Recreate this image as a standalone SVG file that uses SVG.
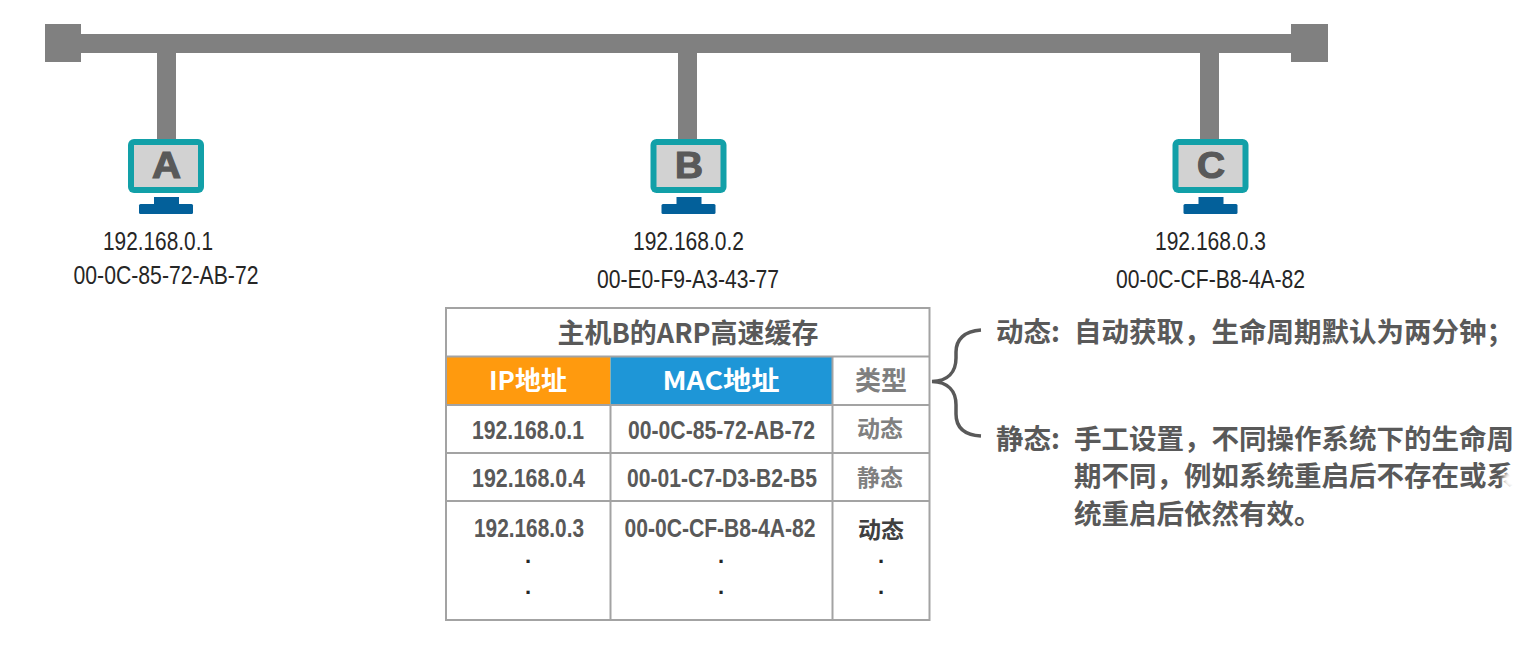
<svg xmlns="http://www.w3.org/2000/svg" width="1522" height="648" viewBox="0 0 1522 648">
<style>
.bus{fill:#808080}
.frame{fill:#12a0a8}.screen{fill:#d2d2d2}.stand{fill:#03609a}
.letter{font:bold 36px "Liberation Sans",Arial,sans-serif;fill:#595959;stroke:#595959;stroke-width:1.2;text-anchor:middle}
.addr{font:25px "Liberation Sans",Arial,sans-serif;fill:#262626;text-anchor:middle}
.cell{font:bold 26px "Liberation Sans",Arial,sans-serif;fill:#595959;text-anchor:middle}
.cjk{font-family:"Noto Sans CJK SC","Liberation Sans",sans-serif;font-weight:700}
.title{font-size:27px;fill:#595959;text-anchor:middle}
.head{font-size:26px;fill:#fff;text-anchor:middle}
.type{font-size:26px;fill:#7f7f7f;text-anchor:middle}
.tcell{font-size:23px;fill:#808080;text-anchor:middle}
.note{font-size:27.500px;fill:#595959}
.dot{font:bold 22px "Liberation Sans",Arial,sans-serif;fill:#262626;text-anchor:middle}
.grid{stroke:#a3a3a3;stroke-width:2;fill:none}
</style>
<defs>
<g id="monitor">
<rect class="frame" x="128" y="139" width="76" height="54" rx="6"/>
<rect class="screen" x="134" y="145" width="64" height="42"/>
<rect class="stand" x="154" y="197" width="25" height="8"/>
<rect class="stand" x="139" y="204" width="54" height="10" rx="1.5"/>
</g>
<filter id="soft" x="-50%" y="-50%" width="200%" height="200%"><feGaussianBlur stdDeviation="2"/></filter>
</defs>
<rect width="1522" height="648" fill="#fff"/>
<g id="connectors">
<rect class="bus" x="45" y="34" width="1283" height="19"/>
<rect class="bus" x="45" y="24" width="36" height="38"/>
<rect class="bus" x="1291" y="24" width="37" height="38"/>
<rect class="bus" x="157" y="53" width="19" height="87"/>
<rect class="bus" x="678" y="53" width="19" height="87"/>
<rect class="bus" x="1200" y="53" width="19" height="87"/>
</g>
<g id="host-a">
<use href="#monitor"/>
<text class="letter" x="166.500" y="178" textLength="29" lengthAdjust="spacingAndGlyphs">A</text>
<text class="addr" x="158" y="250" textLength="110" lengthAdjust="spacingAndGlyphs">192.168.0.1</text>
<text class="addr" x="166" y="284" textLength="185" lengthAdjust="spacingAndGlyphs">00-0C-85-72-AB-72</text>
</g>
<g id="host-b">
<use href="#monitor" x="522.500"/>
<text class="letter" x="689" y="178" textLength="28" lengthAdjust="spacingAndGlyphs">B</text>
<text class="addr" x="688.500" y="250" textLength="111" lengthAdjust="spacingAndGlyphs">192.168.0.2</text>
<text class="addr" x="688" y="288" textLength="182" lengthAdjust="spacingAndGlyphs">00-E0-F9-A3-43-77</text>
</g>
<g id="host-c">
<use href="#monitor" x="1044.500"/>
<text class="letter" x="1211" y="178" textLength="28" lengthAdjust="spacingAndGlyphs">C</text>
<text class="addr" x="1210.500" y="250" textLength="111" lengthAdjust="spacingAndGlyphs">192.168.0.3</text>
<text class="addr" x="1210.500" y="288" textLength="189" lengthAdjust="spacingAndGlyphs">00-0C-CF-B8-4A-82</text>
</g>
<g id="arp-table">
<rect x="446" y="357" width="164.500" height="48" fill="#ff9a0e"/>
<rect x="610.500" y="357" width="222" height="48" fill="#1e96d7"/>
<rect class="grid" x="446" y="308" width="483.500" height="312"/>
<path class="grid" d="M446 356.500H929.500M832.500 356.500V620M446 405H929.500M446 453H929.500M446 501H929.500M610.500 405V620"/>
<text class="cjk title" x="688" y="343">主机B的ARP高速缓存</text>
<text class="cjk head" x="528" y="390">IP地址</text>
<text class="cjk head" x="721" y="390" textLength="117" lengthAdjust="spacingAndGlyphs">MAC地址</text>
<text class="cjk type" x="881" y="390">类型</text>
<text class="cell" x="528" y="439" textLength="112" lengthAdjust="spacingAndGlyphs">192.168.0.1</text>
<text class="cell" x="721.500" y="439" textLength="187" lengthAdjust="spacingAndGlyphs">00-0C-85-72-AB-72</text>
<text class="cjk tcell" x="880" y="437">动态</text>
<text class="cell" x="528.500" y="487" textLength="113" lengthAdjust="spacingAndGlyphs">192.168.0.4</text>
<text class="cell" x="722" y="487" textLength="190" lengthAdjust="spacingAndGlyphs">00-01-C7-D3-B2-B5</text>
<text class="cjk tcell" x="880" y="486">静态</text>
<text class="cell" x="529" y="537" textLength="110" lengthAdjust="spacingAndGlyphs">192.168.0.3</text>
<text class="cell" x="720" y="537" textLength="191" lengthAdjust="spacingAndGlyphs">00-0C-CF-B8-4A-82</text>
<text class="cjk tcell" x="881" y="538" style="fill:#404040">动态</text>
<text class="dot" x="528" y="563">.</text><text class="dot" x="721" y="563">.</text><text class="dot" x="881" y="563">.</text>
<text class="dot" x="528" y="594">.</text><text class="dot" x="721" y="594">.</text><text class="dot" x="881" y="594">.</text>
</g>
<g id="brace">
<path d="M981 330C964 331 956 340 956 352V358C956 372 948 381 932 381.500C948 382 956 391 956 405V414C956 427 964 435 981 436" fill="none" stroke="#595959" stroke-width="3.500"/>
</g>
<g id="notes">
<text class="cjk note" x="996" y="342">动态:</text>
<text class="cjk note" x="1074" y="342">自动获取，生命周期默认为两分钟；</text>
<text class="cjk note" x="996" y="449">静态:</text>
<text class="cjk note" x="1074" y="449">手工设置，不同操作系统下的生命周</text>
<text class="cjk note" x="1074" y="486">期不同，例如系统重启后不存在或系</text>
<text class="cjk note" x="1074" y="524">统重启后依然有效。</text>
<ellipse cx="1512" cy="480" rx="9" ry="9" fill="#fff" filter="url(#soft)"/>
</g>
</svg>
